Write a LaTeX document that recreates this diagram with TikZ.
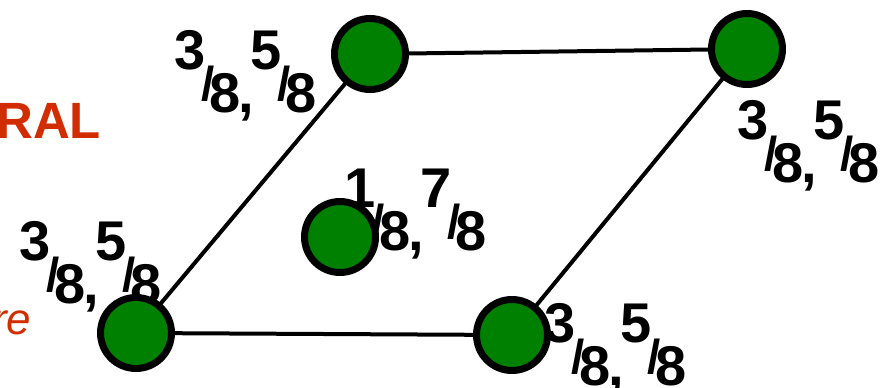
\documentclass[tikz,border=0pt]{standalone}
\usepackage{fontspec}
\setmainfont{Liberation Sans}
\usepackage{graphicx}
\definecolor{nodegreen}{RGB}{0,128,0}
\definecolor{redtxt}{RGB}{210,45,0}
\newcommand\myfr[2]{\raisebox{0.76em}{#1}\kern-0.07em\raisebox{0.2em}{\scalebox{0.85}{/}}\kern-0.1em#2}
\newcommand\lbl[4]{\myfr{#1}{#2}\kern-0.04em,\kern-0.06em\myfr{#3}{#4}}
\pgfdeclarelayer{lbl}
\pgfdeclarelayer{edges}
\pgfsetlayers{lbl,edges,main}
\begin{document}
\begin{tikzpicture}[x=1pt,y=-1pt,
  vert/.style={circle,draw=black,fill=nodegreen,line width=7pt,minimum size=71pt,inner sep=0pt},
  edge/.style={line width=4pt},
  fraclbl/.style={anchor=base west,inner sep=0pt,font=\bfseries\fontsize{56}{56}\selectfont},
  redlbl/.style={anchor=base west,inner sep=0pt,text=redtxt},
]
\useasboundingbox (0,0) rectangle (884,388);
\node[redlbl,font=\bfseries\fontsize{51}{51}\selectfont] (ral) at (-4,138) {RAL};
\node[redlbl,font=\itshape\fontsize{44}{44}\selectfont] (re) at (-8,334) {re};

\node[vert] (tl) at (370,54) {};
\node[vert] (tr) at (747,49) {};
\node[vert] (bl) at (136,333) {};
\node[vert] (br) at (512,335) {};
\node[vert] (c) at (340,237) {};

\begin{pgfonlayer}{lbl}
\node[fraclbl] (ltl) at (174.5,112) {\lbl3858};
\node[fraclbl] (ltr) at (737,182) {\lbl3858};
\node[fraclbl] (lbl) at (19.5,303) {\lbl3858};
\node[fraclbl] (lc) at (344.5,250) {\lbl1878};
\node[fraclbl] (lbr) at (544.5,385) {\lbl3858};
\end{pgfonlayer}

\begin{pgfonlayer}{edges}
\draw[edge] (tl.center) -- (tr.center);
\draw[edge] (bl.center) -- (br.center);
\draw[edge] (tl.center) -- (bl.center);
\draw[edge] (tr.center) -- (br.center);
\end{pgfonlayer}
\end{tikzpicture}
\end{document}
